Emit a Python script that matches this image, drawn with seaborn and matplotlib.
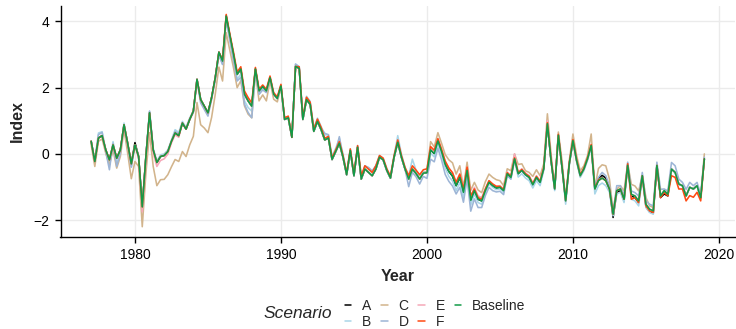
import numpy as np
import pandas as pd
import matplotlib
matplotlib.use("Agg")
import matplotlib.pyplot as plt
import seaborn as sns
from matplotlib.lines import Line2D

# ---------------- data (quarterly, 1977Q1 .. 2019Q1) ----------------
first_year = 1977
baseline = [
    0.38, -0.23, 0.48, 0.55,    # 1977
    0.12, -0.18, 0.27, -0.13,   # 1978
    0.12, 0.88, 0.32, -0.30,    # 1979
    0.27, -0.08, -1.60, -0.08,  # 1980
    1.24, 0.12, -0.26, -0.08,   # 1981
    -0.05, 0.07, 0.38, 0.63,    # 1982
    0.55, 0.93, 0.75, 1.04,     # 1983
    1.29, 2.25, 1.64, 1.44,     # 1984
    1.24, 1.70, 2.30, 3.07,     # 1985
    2.80, 4.16, 3.57, 3.00,     # 1986
    2.40, 2.56, 1.80, 1.60,     # 1987
    1.44, 2.56, 1.90, 2.03,     # 1988
    1.90, 2.30, 1.80, 1.67,     # 1989
    2.05, 1.04, 1.09, 0.50,     # 1990
    2.64, 2.58, 1.04, 1.64,     # 1991
    1.49, 0.68, 0.98, 0.73,     # 1992
    0.42, 0.48, -0.17, 0.07,    # 1993
    0.32, -0.10, -0.63, 0.10,   # 1994
    -0.66, 0.20, -0.76, -0.46,  # 1995
    -0.56, -0.66, -0.46, -0.10, # 1996
    -0.18, -0.50, -0.73, -0.10, # 1997
    0.35, -0.10, -0.46, -0.76,  # 1998
    -0.46, -0.59, -0.76, -0.58, # 1999
    -0.57, 0.12, 0.01, 0.39,    # 2000
    0.07, -0.32, -0.53, -0.67,  # 2001
    -0.96, -0.71, -1.16, -0.50, # 2002
    -1.40, -1.11, -1.37, -1.42, # 2003
    -1.11, -0.86, -0.96, -1.03, # 2004
    -1.01, -1.11, -0.60, -0.71, # 2005
    -0.15, -0.60, -0.50, -0.63, # 2006
    -0.71, -0.93, -0.71, -0.86, # 2007
    -0.45, 0.91, -0.20, -1.06,  # 2008
    0.56, -0.40, -1.42, -0.30,  # 2009
    0.40, -0.20, -0.66, -0.46,  # 2010
    -0.15, 0.25, -1.06, -0.81,  # 2011
    -0.73, -0.81, -1.06, -1.82, # 2012
    -1.11, -1.06, -1.37, -0.35, # 2013
    -1.22, -1.27, -1.42, -0.66, # 2014
    -1.52, -1.67, -1.72, -0.35, # 2015
    -1.27, -1.11, -1.22, -0.46, # 2016
    -0.56, -0.91, -0.96, -1.27, # 2017
    -1.01, -1.06, -0.96, -1.32, # 2018
    -0.15,                      # 2019
]

# deviations of each scenario from the baseline
dev_A = [
    0, 0, 0, 0,  0, 0, 0, 0,  0, 0, 0, 0,  0.07, 0, 0, 0,      # 1977-1980
    0, 0, 0, 0,  0, 0, 0, 0,  0, 0, 0, 0,  0, 0, 0, 0,         # 1981-1984
    0, 0, 0, 0,  0, 0, 0, 0,  0, 0, 0, 0,  0, 0, 0, 0,         # 1985-1988
    0, 0, 0, 0,  0, 0, 0, 0,  0, 0, 0, 0,  0, 0, 0, 0,         # 1989-1992
    0, 0, 0, 0,  0, 0, 0, 0,  0, 0, 0, 0,  0, 0, 0, 0,         # 1993-1996
    0, 0, 0, 0,  0, 0, 0, 0,  0, 0, 0, 0,  0, 0, 0, 0,         # 1997-2000
    0, 0, 0, 0,  0, 0, 0, 0,  0, 0, 0, 0,  0, 0, 0, 0,         # 2001-2004
    0, 0, 0, 0,  0, 0, 0, 0,  0, 0, 0, 0,  0, 0, 0, 0,         # 2005-2008
    0, 0, 0, 0,  0, 0, 0, 0,  0, 0, 0, 0.08,  0.08, 0.08, 0, -0.1,  # 2009-2012
    -0.05, -0.05, -0.05, 0,  -0.05, -0.05, -0.05, 0,  -0.08, -0.08, -0.08, 0,  -0.05, -0.1, -0.05, 0,  # 2013-2016
    0, 0, 0, 0,  0, 0, 0, 0,  0,                              # 2017-2019
]
dev_B = [
    0, 0.05, 0.15, 0.12,  0, -0.15, 0.1, -0.15,  -0.1, 0.05, 0, -0.1,  0, 0, 0, 0,           # 1977-1980
    0.05, 0.05, 0.05, 0.05,  0.05, 0.05, 0.05, 0.1,  0.1, 0.05, 0.05, 0.05,  0, 0, -0.05, -0.05,  # 1981-1984
    -0.05, -0.05, -0.05, -0.05,  -0.1, -0.1, -0.1, -0.15,  -0.15, -0.15, -0.2, -0.2,  -0.15, -0.05, -0.1, -0.05,  # 1985-1988
    0, 0, 0, 0,  0, 0, 0, 0,  0.07, 0.05, 0.05, 0.1,  0.1, 0.1, 0.1, 0.1,                  # 1989-1992
    0.15, 0.1, 0.1, 0.1,  0.15, 0.1, 0.05, 0.05,  0.05, 0.05, 0.05, 0.1,  0.1, 0.1, 0.1, 0.05,  # 1993-1996
    0.05, 0.05, 0.05, 0.05,  0.2, 0.1, 0.05, 0.1,  0.3, 0.1, 0.1, 0.05,  0, -0.1, -0.1, -0.1,  # 1997-2000
    -0.1, -0.1, -0.15, -0.15,  -0.15, -0.15, -0.15, -0.1,  -0.15, -0.1, -0.1, -0.1,  -0.05, -0.05, -0.05, -0.05,  # 2001-2004
    -0.05, -0.05, -0.05, -0.05,  -0.05, -0.1, -0.1, -0.1,  -0.1, -0.1, -0.1, -0.1,  -0.05, 0, 0, -0.05,  # 2005-2008
    0, 0, -0.1, -0.05,  0, -0.05, -0.05, -0.05,  -0.05, -0.05, -0.15, -0.15,  -0.15, -0.15, -0.1, -0.05,  # 2009-2012
    -0.1, -0.1, -0.1, -0.05,  -0.15, -0.15, -0.15, -0.1,  -0.1, -0.1, -0.1, 0,  0, 0, 0, 0,  # 2013-2016
    0, 0, 0, 0,  0, 0, 0, 0,  0,                                                          # 2017-2019
]
dev_C = [
    -0.10, -0.15, -0.10, -0.10,  -0.10, -0.15, -0.15, -0.30,  -0.20, -0.15, -0.30, -0.45,  -0.50, -0.30, -0.60, -0.50,  # 1977-1980
    -0.60, -0.50, -0.70, -0.70,  -0.72, -0.70, -0.77, -0.80,  -0.78, -0.86, -0.83, -0.77,  -0.76, -0.70, -0.76, -0.66,  # 1981-1984
    -0.60, -0.60, -0.50, -0.45,  -0.60, -0.50, -0.45, -0.40,  -0.40, -0.35, -0.35, -0.40,  -0.35, -0.10, -0.30, -0.25,  # 1985-1988
    -0.30, -0.10, -0.15, -0.10,  -0.05, 0, 0, 0,  0, 0, 0, 0,  0, 0, 0, 0,                  # 1989-1992
    0, 0, 0, 0,  0, 0, 0, 0,  0, 0, 0, 0,  0, 0, 0, 0,                                      # 1993-1996
    0, 0, 0, 0,  0, 0, 0, 0,  0, 0, 0, 0,  0.05, 0.25, 0.20, 0.25,                          # 1997-2000
    0.25, 0.30, 0.35, 0.40,  0.35, 0.35, 0.15, 0.25,  0.30, 0.25, 0.28, 0.25,  0.27, 0.25, 0.25, 0.25,  # 2001-2004
    0.20, 0.15, 0.15, 0.20,  0.15, 0.28, 0.20, 0.12,  0.15, 0.25, 0.23, 0.20,  0.15, 0.30, 0.20, 0.05,  # 2005-2008
    0.10, 0.20, 0.05, 0.10,  0.20, 0.15, 0.15, 0.10,  0.10, 0.35, 0.05, 0.37,  0.40, 0.45, 0.30, 0.10,  # 2009-2012
    0.05, 0.10, 0.25, 0.05,  0.30, 0.30, 0.30, 0,  0.20, 0.10, 0.10, 0,  0, 0, 0, 0,       # 2013-2016
    0, 0, 0, 0,  0, 0, 0, 0,  0.15,                                                       # 2017-2019
]
dev_D = [
    0, 0, 0.1, 0.1,  -0.05, -0.3, 0.05, -0.25,  -0.1, 0, -0.05, -0.1,  0, 0, 0, 0,         # 1977-1980
    0.05, 0, 0, 0,  0, 0, 0, 0.05,  0.05, 0, 0, 0,  -0.05, -0.05, -0.1, -0.1,             # 1981-1984
    -0.1, -0.05, -0.05, -0.1,  -0.1, -0.1, -0.15, -0.2,  -0.2, -0.25, -0.3, -0.35,  -0.35, -0.1, -0.1, -0.1,  # 1985-1988
    -0.05, 0, 0, 0,  0, 0, 0, 0,  0.07, 0.05, 0, 0.05,  0.05, 0.05, 0.05, 0.05,          # 1989-1992
    0.2, 0.1, 0, 0,  0.2, 0, 0, 0,  0, 0, 0, 0.1,  0.15, 0.15, 0.1, 0,                    # 1993-1996
    0, 0, 0, 0,  0, 0, 0, -0.23,  -0.1, -0.1, -0.15, -0.1,  -0.17, -0.28, -0.25, -0.22,  # 1997-2000
    -0.25, -0.3, -0.3, -0.3,  -0.25, -0.3, -0.3, -0.25,  -0.33, -0.25, -0.25, -0.2,  -0.15, -0.15, -0.15, -0.12,  # 2001-2004
    -0.12, -0.12, -0.05, -0.05,  0, 0, 0, 0,  0, 0, 0, 0,  0, 0, 0, 0,                   # 2005-2008
    0, 0, 0, 0,  0, 0, 0, 0,  0, 0, 0.1, 0.1,  0.17, 0.15, 0.1, 0.05,                     # 2009-2012
    0.15, 0.1, 0.1, 0.1,  0.1, 0.1, 0.15, 0.1,  0.1, 0.15, 0.15, 0.1,  0.2, 0.05, 0.1, 0.2,  # 2013-2016
    0.2, 0.15, 0.1, 0.2,  0.15, 0.1, 0.1, 0.1,  0.05,                                     # 2017-2019
]
dev_E = [
    0, 0, 0, 0,  0, 0, 0, 0,  0, 0, 0, 0,  0, -0.05, -0.15, -0.1,                         # 1977-1980
    -0.05, -0.1, -0.12, -0.12,  -0.1, -0.08, -0.05, -0.05,  -0.05, 0, 0, 0,  0, 0, 0, 0,  # 1981-1984
    0, 0, 0, 0,  0, 0, 0, 0,  0, 0, 0, 0,  0, 0, 0, 0,                                    # 1985-1988
    0, 0, 0, 0,  0, 0, 0, 0,  0, 0, 0, 0,  0, 0, 0, 0,                                    # 1989-1992
    0, 0, 0, 0,  0, 0, 0, 0,  0, 0, 0, 0,  0, 0, 0, 0,                                    # 1993-1996
    0, 0, 0, 0,  0, 0, 0, 0,  0, 0, 0, 0,  0, 0.05, 0.05, 0.05,                           # 1997-2000
    0.05, 0.1, 0.1, 0.1,  0.1, 0.1, 0.15, 0.1,  0.1, 0.1, 0.1, 0.1,  0.05, 0.05, 0.05, 0.05,  # 2001-2004
    0.05, 0.05, 0.05, 0.05,  0.15, 0.05, 0.05, 0.05,  0.05, 0.05, 0.05, 0.05,  0.05, 0.1, 0.05, 0,  # 2005-2008
    0, 0, 0, 0,  0, 0, 0, 0,  0, 0, 0, 0,  0, 0, 0, 0,                                    # 2009-2012
    0, 0, 0, 0,  0, 0, 0, 0,  0, 0, 0, 0,  0, 0, 0, 0,                                    # 2013-2016
    0, 0, 0, 0,  0, 0, 0, 0,  0,                                                          # 2017-2019
]
dev_F = [
    0, 0, 0, 0,  0, 0, 0, 0,  0, 0, 0, 0,  0, 0, 0, 0,                                    # 1977-1980
    0, 0, 0, 0,  0, 0, 0, 0,  0, 0, 0, 0,  0, 0, 0, 0,                                    # 1981-1984
    0, 0, 0, 0,  0.05, 0.05, 0.05, 0.07,  0.07, 0.07, 0.1, 0.1,  0.1, 0.05, 0.05, 0.05,   # 1985-1988
    0.05, 0.05, 0.05, 0.05,  0.05, 0.05, 0.05, 0,  0, 0.05, 0.07, 0.07,  0.07, 0.07, 0.07, 0.07,  # 1989-1992
    0.05, 0.05, 0.05, 0.05,  0.05, 0.05, 0.05, 0.05,  0.05, 0.05, 0.1, 0.1,  0.1, 0.1, 0.1, 0.05,  # 1993-1996
    0.05, 0.05, 0.05, 0.05,  0.07, 0.05, 0.05, 0.1,  0.1, 0.1, 0.13, 0.1,  0.12, 0.1, 0.1, 0.07,  # 1997-2000
    0.07, 0.1, 0.1, 0.1,  0.1, 0.1, 0.1, 0.1,  0.13, 0.05, 0.05, 0.05,  0.05, 0.05, 0.05, 0.05,  # 2001-2004
    0.03, 0.03, 0.03, 0.03,  0.03, 0.03, 0.03, 0.03,  0.03, 0.03, 0.03, 0.03,  0.03, 0.03, 0.03, 0.03,  # 2005-2008
    0.03, 0.03, 0.03, 0.03,  0.03, 0.03, 0.03, 0.03,  0.03, 0.03, 0.03, 0.03,  0, 0, 0, 0,  # 2009-2012
    0, 0, 0, 0.05,  -0.15, -0.05, -0.05, 0,  -0.05, -0.05, -0.05, 0,  -0.05, -0.05, -0.05, -0.2,  # 2013-2016
    -0.15, -0.15, -0.1, -0.15,  -0.25, -0.25, -0.2, -0.1,  0,                            # 2017-2019
]

scenarios = ["A", "B", "C", "D", "E", "F", "Baseline"]
colors = ["#000000", "#a9d6e8", "#d2b48c", "#9db5d6", "#f5a8b8", "#ff4a12", "#129b48"]

# ---------------- long table ----------------
base = np.array(baseline)
devs = {"A": dev_A, "B": dev_B, "C": dev_C, "D": dev_D, "E": dev_E, "F": dev_F}
years = first_year + np.arange(len(base)) / 4.0
frames = []
for s in scenarios:
    vals = base if s == "Baseline" else base + np.array(devs[s])
    frames.append(pd.DataFrame({"Year": years, "Index": vals, "Scenario": s}))
df = pd.concat(frames, ignore_index=True)

# ---------------- plot ----------------
sns.set_theme(style="white")
plt.rcParams["font.family"] = ["Liberation Sans", "DejaVu Sans"]

W, H = 736, 329
fig = plt.figure(figsize=(W / 100, H / 100), dpi=100)
ax = fig.add_axes([60.5 / W, 1 - 237 / H, (735 - 60.5) / W, (237 - 5.5) / H])

sns.lineplot(data=df, x="Year", y="Index", hue="Scenario", hue_order=scenarios,
             palette=dict(zip(scenarios, colors)), estimator=None, linewidth=1.15,
             legend=False, ax=ax)

ax.set_xlim(1974.9, 2021.1)
ax.set_ylim(-2.51, 4.48)
ax.set_xticks([1980, 1990, 2000, 2010, 2020])
ax.set_yticks([-2, 0, 2, 4])
ax.grid(True, color="#ebebeb", linewidth=1.0)
ax.set_axisbelow(True)
for side in ["top", "right"]:
    ax.spines[side].set_visible(False)
for side in ["left", "bottom"]:
    ax.spines[side].set_color("black")
    ax.spines[side].set_linewidth(1.0)
ax.tick_params(axis="both", which="major", length=4, width=1.0, color="black",
               labelsize=10, labelcolor="black", pad=4, bottom=True, left=True)
ax.set_xlabel("Year", fontsize=11.5, fontweight="bold", labelpad=5)
ax.set_ylabel("Index", fontsize=11.5, fontweight="bold", labelpad=6)

# legend at bottom
handles = [Line2D([0], [0], color=c, lw=1.1) for c in colors]
fig.text(263 / W, 1 - 313.5 / H, "Scenario", fontsize=12.5, fontstyle="italic",
         ha="left", va="center")
fig.legend(handles, scenarios, ncol=4, loc="center left",
           bbox_to_anchor=(345 / W, 1 - 314 / H), frameon=False,
           fontsize=10, handlelength=0.45, handletextpad=0.8,
           columnspacing=0.7, labelspacing=0.12, borderpad=0, borderaxespad=0)

fig.savefig("out.png", dpi=100)
